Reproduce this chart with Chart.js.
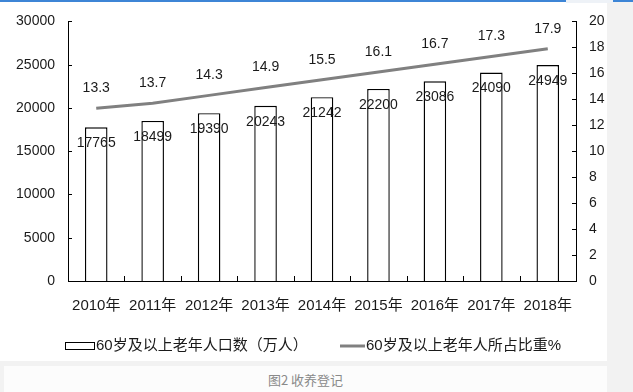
<!DOCTYPE html>
<html>
<head>
<meta charset="utf-8">
<script src="https://cdn.jsdelivr.net/npm/chart.js@4.4.1/dist/chart.umd.min.js"></script>
<style>
  body { margin: 0; background: #f2f2f2; width: 633px; height: 392px; overflow: hidden; position: relative; }
  #panel { position: absolute; left: 0; top: 0; width: 607px; height: 361px; background: #fff; }
  #topbar { position: absolute; left: 0; top: 0; width: 633px; height: 2px; background: #3d85d6; }
  #tab { position: absolute; left: 566px; top: 0; width: 47px; height: 3px; background: #eef2f7; }
  #caption { position: absolute; left: 4px; top: 366px; width: 603px; height: 26px; background: #fcfcfc;
    text-align: center; font: 13px "Noto Sans CJK SC", sans-serif; color: #8a8a8a; line-height: 28px; }
</style>
</head>
<body>
<div id="panel"><canvas id="chart" width="607" height="361"></canvas></div>
<div id="topbar"></div>
<div id="tab"></div>
<div id="caption">图2 收养登记</div>
<script>
const years = ['2010年', '2011年', '2012年', '2013年', '2014年', '2015年', '2016年', '2017年', '2018年'];
const elderlyPop = [17765, 18499, 19390, 20243, 21242, 22200, 23086, 24090, 24949];
const elderlyShare = [13.3, 13.7, 14.3, 14.9, 15.5, 16.1, 16.7, 17.3, 17.9];
const popLabel = '60岁及以上老年人口数（万人）';
const shareLabel = '60岁及以上老年人所占比重%';

const FONT = '"Liberation Sans", "Noto Sans CJK SC", sans-serif';
const INK = '#1a1a1a';
const LINE_GRAY = '#808080';

// value labels above the line, inside the bars
const valueLabels = {
  id: 'valueLabels',
  afterDatasetsDraw(chart) {
    const ctx = chart.ctx;
    ctx.save();
    ctx.font = '14px ' + FONT;
    ctx.fillStyle = INK;
    ctx.textAlign = 'center';
    ctx.textBaseline = 'middle';
    chart.getDatasetMeta(1).data.forEach((bar, i) => {
      ctx.fillText(String(elderlyPop[i]), bar.x, bar.y + 16);
    });
    chart.getDatasetMeta(0).data.forEach((pt, i) => {
      ctx.fillText(elderlyShare[i].toFixed(1), pt.x, pt.y - 20);
    });
    ctx.restore();
  }
};

// inward tick marks and the legend underneath
const axisDecor = {
  id: 'axisDecor',
  afterDraw(chart) {
    const ctx = chart.ctx;
    const area = chart.chartArea;
    const yL = chart.scales.y;
    const yR = chart.scales.y1;
    const x = chart.scales.x;
    ctx.save();
    ctx.strokeStyle = '#000';
    ctx.lineWidth = 1;
    ctx.beginPath();
    yL.ticks.forEach(t => {
      const py = Math.round(yL.getPixelForValue(t.value)) + 0.5;
      ctx.moveTo(area.left, py);
      ctx.lineTo(area.left + 4, py);
    });
    yR.ticks.forEach(t => {
      const py = Math.round(yR.getPixelForValue(t.value)) + 0.5;
      ctx.moveTo(area.right - 4, py);
      ctx.lineTo(area.right, py);
    });
    for (let i = 1; i < years.length; i++) {
      const px = Math.round((x.getPixelForValue(i - 1) + x.getPixelForValue(i)) / 2) + 0.5;
      ctx.moveTo(px, area.bottom);
      ctx.lineTo(px, area.bottom - 5);
    }
    ctx.stroke();

    // legend
    ctx.font = '15px ' + FONT;
    ctx.fillStyle = INK;
    ctx.textBaseline = 'middle';
    ctx.textAlign = 'left';
    ctx.strokeRect(65.5, 342.5, 29, 7);
    ctx.fillText(popLabel, 96, 346);
    ctx.strokeStyle = LINE_GRAY;
    ctx.lineWidth = 3;
    ctx.beginPath();
    ctx.moveTo(340, 346);
    ctx.lineTo(365, 346);
    ctx.stroke();
    ctx.fillText(shareLabel, 366, 346);
    ctx.restore();
  }
};

new Chart(document.getElementById('chart'), {
  data: {
    labels: years,
    datasets: [
      {
        type: 'line',
        label: shareLabel,
        data: elderlyShare,
        yAxisID: 'y1',
        borderColor: LINE_GRAY,
        borderWidth: 3,
        pointRadius: 0,
        tension: 0,
        order: 0
      },
      {
        type: 'bar',
        label: popLabel,
        data: elderlyPop,
        yAxisID: 'y',
        backgroundColor: '#fff',
        borderColor: '#000',
        borderWidth: 1.4,
        categoryPercentage: 1,
        barPercentage: 0.4,
        order: 1
      }
    ]
  },
  plugins: [valueLabels, axisDecor],
  options: {
    responsive: false,
    animation: false,
    layout: { padding: { top: 21, bottom: 40, left: 0, right: 0 } },
    plugins: { legend: { display: false }, tooltip: { enabled: false } },
    scales: {
      x: {
        offset: true,
        grid: { display: false, drawTicks: false },
        border: { display: true, color: '#000', width: 1 },
        ticks: { color: INK, font: { size: 15, family: FONT }, padding: 16, maxRotation: 0 },
        afterFit: s => { s.height = 40; }
      },
      y: {
        position: 'left',
        min: 0, max: 30000,
        grid: { display: false, drawTicks: false },
        border: { display: true, color: '#000', width: 1 },
        ticks: { stepSize: 5000, color: INK, font: { size: 14, family: FONT }, padding: 13, callback: v => String(v) },
        afterFit: s => { s.width = 68; }
      },
      y1: {
        position: 'right',
        min: 0, max: 20,
        grid: { display: false, drawTicks: false },
        border: { display: true, color: '#000', width: 1 },
        ticks: { stepSize: 2, color: INK, font: { size: 14, family: FONT }, padding: 13, callback: v => String(v) },
        afterFit: s => { s.width = 31; }
      }
    }
  }
});
</script>
</body>
</html>
